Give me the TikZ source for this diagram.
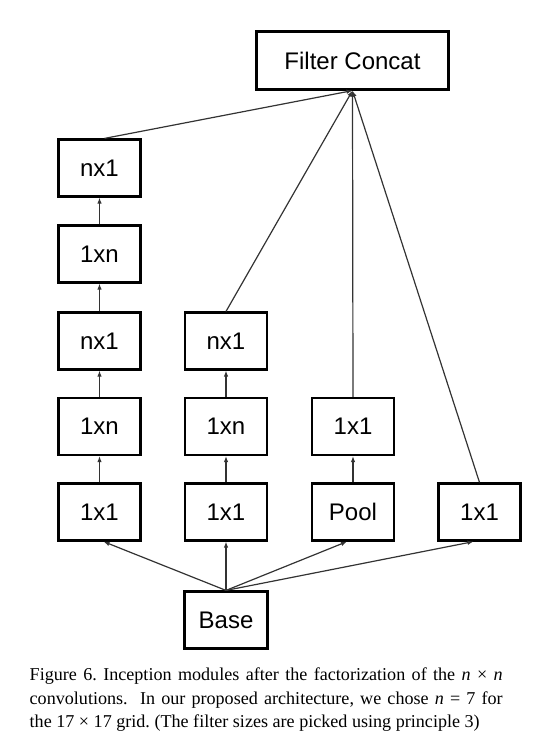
\documentclass[tikz,border=0pt]{standalone}
\usepackage{fontspec}
\setmainfont{Liberation Serif}
\newfontfamily\hvfont{Liberation Sans}
\usetikzlibrary{arrows.meta}
\begin{document}
\begin{tikzpicture}[x=1pt,y=-1pt,
  box/.style={draw, line width=2.2pt, minimum width=82pt, minimum height=57pt, inner sep=0pt, font=\hvfont\fontsize{24}{28}\selectfont},
  conn/.style={line width=1.2pt, draw=black!80, -{Latex[length=6pt,width=4.5pt]}}]
\useasboundingbox (0,0) rectangle (559,747);
\node[box, minimum width=192pt, minimum height=58pt] (fc) at (352.5,60.5) {Filter Concat};
% column 1
\node[box] (a5) at (99.5,168) {nx1};
\node[box] (a4) at (99.5,254) {1xn};
\node[box] (a3) at (99.5,341) {nx1};
\node[box] (a2) at (99.5,426.5) {1xn};
\node[box] (a1) at (99.5,512) {1x1};
% column 2
\node[box] (b3) at (226,341) {nx1};
\node[box] (b2) at (226,426.5) {1xn};
\node[box] (b1) at (226,512) {1x1};
% column 3
\node[box] (c2) at (353,426.5) {1x1};
\node[box] (c1) at (353,512) {Pool};
% column 4
\node[box] (d1) at (479.5,512) {1x1};
% base
\node[box, minimum width=83pt] (base) at (226,620) {Base};
% base connectors
\draw[conn] (base.north) -- ([xshift=4pt]a1.south);
\draw[conn] (base.north) -- (b1.south);
\draw[conn] (base.north) -- ([xshift=-6pt]c1.south);
\draw[conn] (base.north) -- ([xshift=-6pt]d1.south);
% column connectors
\draw[conn] (a1) -- (a2);
\draw[conn] (a2) -- (a3);
\draw[conn] (a3) -- (a4);
\draw[conn] (a4) -- (a5);
\draw[conn] (b1) -- (b2);
\draw[conn] (b2) -- (b3);
\draw[conn] (c1) -- (c2);
% to concat
\draw[conn] ([xshift=5pt]a5.north) -- (fc.south);
\draw[conn] (b3.north) -- (fc.south);
\draw[conn] (c2.north) -- (fc.south);
\draw[conn] (d1.north) -- (fc.south);
% caption
\node[anchor=north west, inner sep=0pt, text width=473pt, align=justify,
  font=\fontsize{18.1}{23.2}\selectfont\frenchspacing] (cap) at (29.5,668)
  {Figure 6. Inception modules after the factorization of the \textit{n}~×~\textit{n}\linebreak convolutions.\ \ In our proposed architecture, we chose \textit{n}~=~7 for\linebreak the 17~×~17 grid. (The filter sizes are picked using principle 3)};
\end{tikzpicture}
\end{document}
